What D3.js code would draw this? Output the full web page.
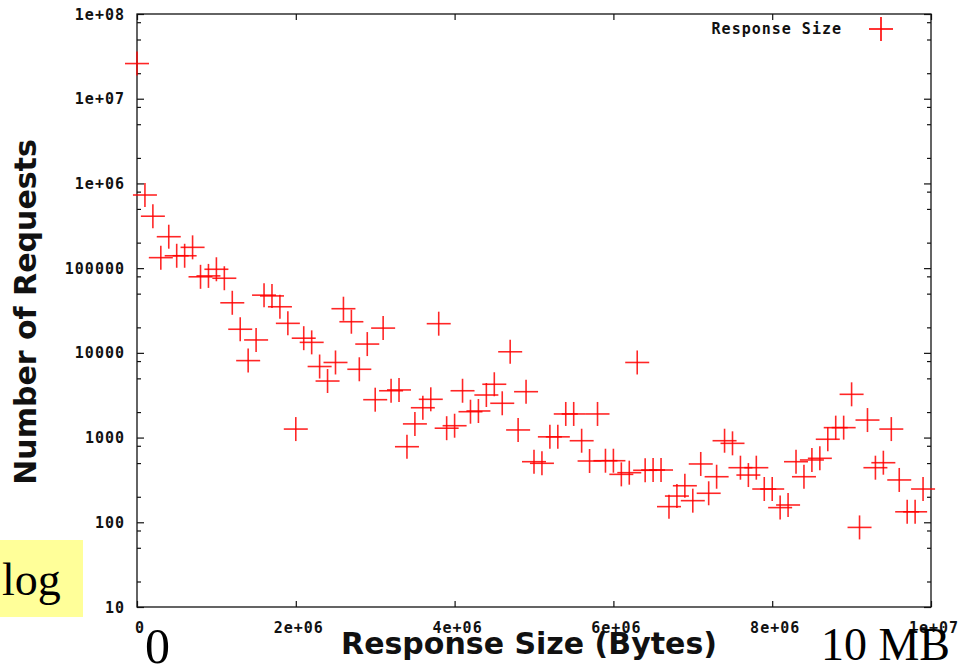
<!DOCTYPE html>
<html>
<head>
<meta charset="utf-8">
<script src="https://cdn.jsdelivr.net/npm/d3@7"></script>
<style>
html,body{margin:0;padding:0;background:#fff;}
svg{display:block;}
</style>
</head>
<body>
<svg id="chart" width="958" height="667"></svg>
<script>
// Response size bins (bytes)
const sizes = [
  0, 1e5, 2e5, 3e5, 4e5, 5e5, 6e5, 7e5, 8e5, 9e5,
  10e5, 11e5, 12e5, 13e5, 14e5, 15e5, 16e5, 17e5, 18e5, 19e5,
  20e5, 21e5, 22e5, 23e5, 24e5, 25e5, 26e5, 27e5, 28e5, 29e5,
  30e5, 31e5, 32e5, 33e5, 34e5, 35e5, 36e5, 37e5, 38e5, 39e5,
  40e5, 41e5, 42e5, 43e5, 44e5, 45e5, 46e5, 47e5, 48e5, 49e5,
  50e5, 51e5, 52e5, 53e5, 54e5, 55e5, 56e5, 57e5, 58e5, 59e5,
  60e5, 61e5, 62e5, 63e5, 64e5, 65e5, 66e5, 67e5, 68e5, 69e5,
  70e5, 71e5, 72e5, 73e5, 74e5, 75e5, 76e5, 77e5, 78e5, 79e5,
  80e5, 81e5, 82e5, 83e5, 84e5, 85e5, 86e5, 87e5, 88e5, 89e5,
  90e5, 91e5, 92e5, 93e5, 94e5, 95e5, 96e5, 97e5, 98e5, 99e5
];
// Number of requests per bin
const requests = [
  2.6e7, 7.3e5, 4.1e5, 1.33e5, 2.35e5, 1.40e5, 1.40e5, 1.76e5, 7.9e4, 8.1e4,
  9.7e4, 7.6e4, 3.9e4, 1.9e4, 8.1e3, 1.42e4, 4.8e4, 4.7e4, 3.5e4, 2.23e4,
  1260, 1.49e4, 1.33e4, 6900, 4650, 7700, 3.32e4, 2.33e4, 6400, 1.27e4,
  2800, 1.96e4, 3570, 3650, 780, 1450, 2250, 2830, 2.21e4, 1290,
  1380, 3570, 2020, 2060, 3180, 4260, 2540, 1.03e4, 1230, 3480,
  519, 497, 1020, 1020, 1900, 1900, 918, 529, 1900, 533,
  533, 368, 385, 7700, 411, 414, 414, 153, 204, 270,
  180, 488, 220, 345, 918, 855, 441, 361, 441, 247,
  247, 149, 160, 519, 345, 544, 569, 955, 1310, 1310,
  3240, 87, 1610, 441, 505, 1260, 316, 133, 133, 247
];
const xTickValues = [0, 2e6, 4e6, 6e6, 8e6, 1e7];
const xTickLabels = ["0", "2e+06", "4e+06", "6e+06", "8e+06", "1e+07"];
const yTickValues = [1e1, 1e2, 1e3, 1e4, 1e5, 1e6, 1e7, 1e8];
const yTickLabels = ["10", "100", "1000", "10000", "100000", "1e+06", "1e+07", "1e+08"];
const yMinorMultipliers = [2, 5, 8];
const seriesName = "Response Size";
const xTitle = "Response Size (Bytes)";
const yTitle = "Number of Requests";

const L = 137, R = 931, T = 14, B = 607;
const svg = d3.select("#chart");
const x = d3.scaleLinear().domain([0, 1e7]).range([L, R]);
const y = d3.scaleLog().domain([10, 1e8]).range([B, T]);

const tickFont = "bold 15px 'DejaVu Sans Mono', monospace";

// minor y ticks
const minor = [];
for (let e = 1; e < 8; e++) yMinorMultipliers.forEach(m => minor.push(m * Math.pow(10, e)));

const axisG = svg.append("g");
// left axis (inward)
const yLeft = d3.axisRight(y).tickValues(yTickValues).tickSize(7).tickFormat("");
const yLeftMinor = d3.axisRight(y).tickValues(minor).tickSize(4).tickFormat("");
const yRight = d3.axisLeft(y).tickValues(yTickValues).tickSize(7).tickFormat("");
const yRightMinor = d3.axisLeft(y).tickValues(minor).tickSize(4).tickFormat("");
const xBottom = d3.axisTop(x).tickValues(xTickValues).tickSize(6).tickFormat("");
const xTop = d3.axisBottom(x).tickValues(xTickValues).tickSize(6).tickFormat("");

function styleAxis(g){
  g.select(".domain").remove();
  g.selectAll(".tick line").attr("stroke", "#111").attr("stroke-width", 1.2);
}
axisG.append("g").attr("transform", `translate(${L},0)`).call(yLeft).call(styleAxis);
axisG.append("g").attr("transform", `translate(${L},0)`).call(yLeftMinor).call(styleAxis);
axisG.append("g").attr("transform", `translate(${R},0)`).call(yRight).call(styleAxis);
axisG.append("g").attr("transform", `translate(${R},0)`).call(yRightMinor).call(styleAxis);
axisG.append("g").attr("transform", `translate(0,${B})`).call(xBottom).call(styleAxis);
axisG.append("g").attr("transform", `translate(0,${T})`).call(xTop).call(styleAxis);

// frame
svg.append("rect").attr("x", L).attr("y", T).attr("width", R - L).attr("height", B - T)
  .attr("fill", "none").attr("stroke", "#111").attr("stroke-width", 1.3);

// y tick labels
svg.append("g").selectAll("text").data(yTickValues).join("text")
  .attr("x", 125).attr("y", d => y(d) + 5.5)
  .attr("text-anchor", "end")
  .style("font", tickFont).style("letter-spacing", "1px")
  .attr("fill", "#111")
  .text((d, i) => yTickLabels[i]);

// x tick labels
svg.append("g").selectAll("text").data(xTickValues).join("text")
  .attr("x", d => x(d) + 3).attr("y", 633)
  .attr("text-anchor", "middle")
  .style("font", tickFont).style("letter-spacing", "1px")
  .attr("fill", "#111")
  .text((d, i) => xTickLabels[i]);

// axis titles
svg.append("text").attr("x", 529).attr("y", 654).attr("text-anchor", "middle")
  .style("font", "bold 30px 'DejaVu Sans', sans-serif").attr("fill", "#111").text(xTitle);
svg.append("text").attr("transform", "translate(36,312) rotate(-90)").attr("text-anchor", "middle")
  .style("font", "bold 30px 'DejaVu Sans', sans-serif").attr("fill", "#111").text(yTitle);

// points
const pts = sizes.map((s, i) => ({s, v: requests[i]}));
const arm = 12;
const ptsG = svg.append("g").attr("stroke", "#ff0000").attr("stroke-width", 1.6).attr("stroke-opacity", 0.85);
const g = ptsG.selectAll("g").data(pts).join("g")
  .attr("transform", d => `translate(${x(d.s)},${y(d.v)})`);
g.append("line").attr("x1", -arm).attr("x2", arm).attr("y1", 0).attr("y2", 0);
g.append("line").attr("x1", 0).attr("x2", 0).attr("y1", -arm).attr("y2", arm);

// legend
svg.append("text").attr("x", 842).attr("y", 34).attr("text-anchor", "end")
  .style("font", tickFont).style("letter-spacing", "1px").attr("fill", "#111").text(seriesName);
const lg = svg.append("g").attr("transform", "translate(881,29)").attr("stroke", "#ff0000").attr("stroke-width", 1.6);
lg.append("line").attr("x1", -arm).attr("x2", arm);
lg.append("line").attr("y1", -arm).attr("y2", arm);

// annotations
svg.append("rect").attr("x", 0).attr("y", 540).attr("width", 83).attr("height", 77).attr("fill", "#ffff99");
svg.append("text").attr("x", 2).attr("y", 595)
  .style("font", "46px 'Liberation Serif', 'Times New Roman', serif").attr("fill", "#000").text("log");
svg.append("text").attr("x", 145).attr("y", 663)
  .style("font", "50px 'Liberation Serif', 'Times New Roman', serif").attr("fill", "#000").text("0");
svg.append("text").attr("x", 950).attr("y", 660).attr("text-anchor", "end")
  .style("font", "46px 'Liberation Serif', 'Times New Roman', serif").attr("fill", "#000").text("10 MB");
</script>
</body>
</html>
